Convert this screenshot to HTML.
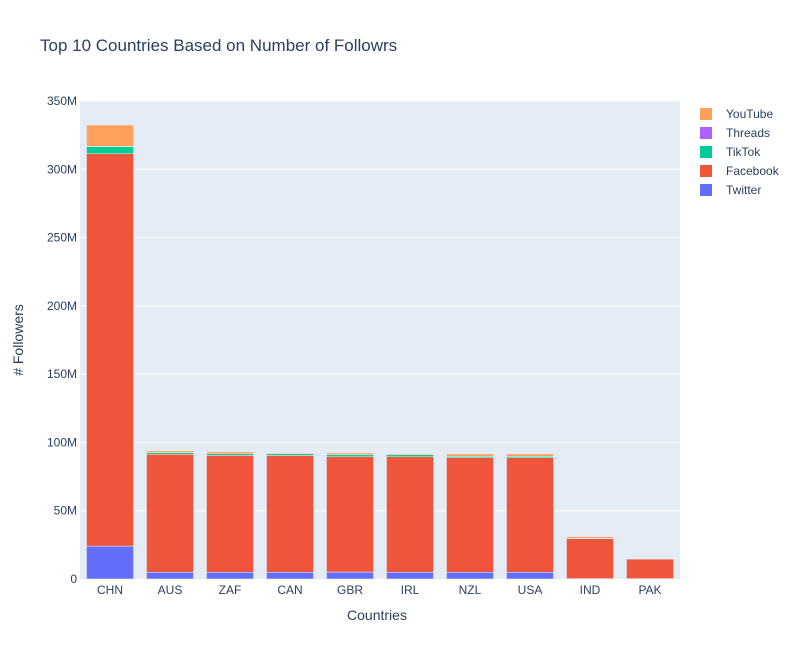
<!DOCTYPE html>
<html><head><meta charset="utf-8"><style>
body{margin:0;background:#fff;font-family:"Liberation Sans",Arial,sans-serif;}
text{font-family:"Liberation Sans",Arial,sans-serif;fill:#2a3f5f;}
</style></head><body>
<svg id="chart" width="800" height="660">
<rect width="800" height="660" fill="#fff"/>
<text x="40" y="51" font-size="17">Top 10 Countries Based on Number of Followrs</text>
<rect x="80" y="101" width="600" height="478" fill="#e5ecf6"/>
<g id="grid"></g><g id="bars"></g><g id="axes"></g><g id="legend"></g>
<text x="377" y="620" font-size="14" text-anchor="middle">Countries</text>
<text x="23" y="340" font-size="14" text-anchor="middle" transform="rotate(-90 23 340)"># Followers</text>
</svg>
<script>
const categories=["CHN","AUS","ZAF","CAN","GBR","IRL","NZL","USA","IND","PAK"];
const twitter=[24.1,4.9,4.9,4.9,5.1,4.9,4.9,4.9,0.3,0.3];
const facebook=[287.3,86.4,85.6,85.6,84.4,84.6,83.9,83.9,29.2,14.3];
const tiktok=[5.1,1.2,1.2,1.2,1.5,1.5,1.0,1.0,0.2,0];
const threads=[0.3,0.1,0.1,0.1,0.1,0.1,0.1,0.1,0.1,0];
const youtube=[15.6,1.2,1.3,0.5,1.2,0.7,1.7,1.7,1.2,0.1];
const yTicks=[0,50,100,150,200,250,300,350];
const yTickLabels=["0","50M","100M","150M","200M","250M","300M","350M"];
const seriesNames=["Twitter","Facebook","TikTok","Threads","YouTube"];
const seriesColors=["#636efa","#ef553b","#00cc96","#ab63fa","#ffa15a"];
const series=[twitter,facebook,tiktok,threads,youtube];
const NS="http://www.w3.org/2000/svg";
const X0=80,W=600,Y0=579,H=478,YMAX=350;
const y=v=>Y0-v/YMAX*H;
const slot=W/categories.length;
const xc=i=>X0+slot*(i+0.5);
function mk(tag,attrs,parent){const e=document.createElementNS(NS,tag);for(const k in attrs)e.setAttribute(k,attrs[k]);parent.appendChild(e);return e;}
const grid=document.getElementById('grid'),axes=document.getElementById('axes'),bars=document.getElementById('bars'),legend=document.getElementById('legend');
yTicks.forEach((t,i)=>{
 if(t>0){const l=mk('line',{x1:X0,x2:X0+W,y1:y(t),y2:y(t),stroke:'#fff','stroke-width':1},grid);
 
 }
 const tx=mk('text',{x:X0-3,y:y(t)+4,'font-size':12,'text-anchor':'end'},axes);tx.textContent=yTickLabels[i];
 
 
});
categories.forEach((c,i)=>{
 const tx=mk('text',{x:xc(i),y:Y0+15,'font-size':12,'text-anchor':'middle'},axes);tx.textContent=c;
 
 
 let base=0;
 series.forEach((s,k)=>{
  const v=s[i];if(v<=0)return;
  const r=mk('rect',{x:xc(i)-slot*0.4+0.5,width:slot*0.8-1,y:y(base+v),height:y(base)-y(base+v),fill:seriesColors[k],stroke:'#e5ecf6','stroke-width':0.5},bars);
  
  
  base+=v;
 });
});
for(let k=seriesNames.length-1,j=0;k>=0;k--,j++){
 const g=mk('g',{},legend);
 
 
 const yy=114+j*19;
 mk('rect',{x:700,y:yy-6,width:12,height:12,fill:seriesColors[k]},g);
 const t=mk('text',{x:726,y:yy+4,'font-size':12},g);t.textContent=seriesNames[k];
}
</script>
</body></html>
